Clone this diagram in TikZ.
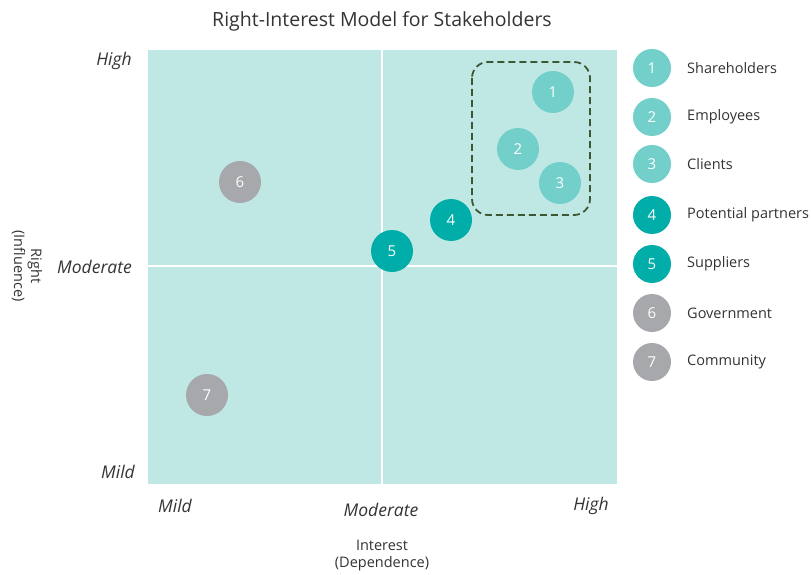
\documentclass[tikz,border=0pt]{standalone}
\usepackage{fontspec}
\setmainfont{Open Sans}
\usetikzlibrary{positioning}
\definecolor{quadbg}{HTML}{BFE8E5}
\definecolor{tealhi}{HTML}{72CFCA}
\definecolor{tealdk}{HTML}{00ADA8}
\definecolor{greyst}{HTML}{A6A8AB}
\definecolor{groupln}{HTML}{3E5733}
\definecolor{txtgrey}{HTML}{333333}
\tikzset{
  stake/.style={circle, minimum size=42pt, inner sep=0pt, text=white, font=\fontsize{15}{17}\selectfont},
  legdot/.style={circle, minimum size=38pt, inner sep=0pt, text=white, font=\fontsize{15}{17}\selectfont},
  legtxt/.style={anchor=west, text=txtgrey, inner sep=1pt, font=\fontsize{14.5}{17}\selectfont},
  lvl/.style={text=txtgrey, font=\fontsize{17.5}{19}\selectfont\itshape, inner sep=0pt},
  axtxt/.style={text=txtgrey, align=center, font=\fontsize{14.5}{17}\selectfont}
}
\begin{document}
\begin{tikzpicture}[x=1pt, y=-1pt]
        \useasboundingbox (0,0) rectangle (811,575);
        \node[text=txtgrey, font=\fontsize{19.5}{22}\selectfont] (title) at (382,21) {Right-Interest Model for Stakeholders};

        % quadrants
        \fill[quadbg] (148,50) rectangle (617,484);
        \draw[white, line width=1.5pt] (148,266) -- (617,266);
        \draw[white, line width=1.5pt] (382,50) -- (382,484);

        % level labels
        \node[lvl, anchor=east] (yhigh) at (132,61) {High};
        \node[lvl, anchor=east] (ymod) at (132,267) {Moderate};
        \node[lvl, anchor=east] (ymild) at (135,472) {Mild};
        \node[lvl] (xmild) at (175,506) {Mild};
        \node[lvl] (xmod) at (381,510) {Moderate};
        \node[lvl] (xhigh) at (591,506) {High};

        \node[axtxt, rotate=-90] (yaxis) at (27,266) {Right\\(Influence)};
        \node[axtxt] (xaxis) at (382,556) {Interest\\(Dependence)};

        % group
        \draw[groupln, line width=1.8pt, dash pattern=on 7pt off 4pt, rounded corners=16pt] (472,62) rectangle (590,215);

        % stakeholders
        \node[stake, fill=tealhi] (s1) at (553,92) {1};
        \node[stake, fill=tealhi] (s2) at (518,149) {2};
        \node[stake, fill=tealhi] (s3) at (560,183) {3};
        \node[stake, fill=tealdk] (s4) at (451,220) {4};
        \node[stake, fill=tealdk] (s5) at (392,251) {5};
        \node[stake, fill=greyst] (s6) at (240,182) {6};
        \node[stake, fill=greyst] (s7) at (207,395) {7};

        % legend
        \node[legdot, fill=tealhi] (l1) at (652,68) {1};
        \node[legdot, fill=tealhi] (l2) at (652,117) {2};
        \node[legdot, fill=tealhi] (l3) at (652,164) {3};
        \node[legdot, fill=tealdk] (l4) at (652,215) {4};
        \node[legdot, fill=tealdk] (l5) at (652,264) {5};
        \node[legdot, fill=greyst] (l6) at (652,313) {6};
        \node[legdot, fill=greyst] (l7) at (652,362) {7};
        \node[legtxt] at (686,68) {Shareholders};
        \node[legtxt] at (686,117) {Employees};
        \node[legtxt] at (686,164) {Clients};
        \node[legtxt] at (686,215) {Potential partners};
        \node[legtxt] at (686,264) {Suppliers};
        \node[legtxt] at (686,313) {Government};
        \node[legtxt] at (686,362) {Community};
\end{tikzpicture}
\end{document}
